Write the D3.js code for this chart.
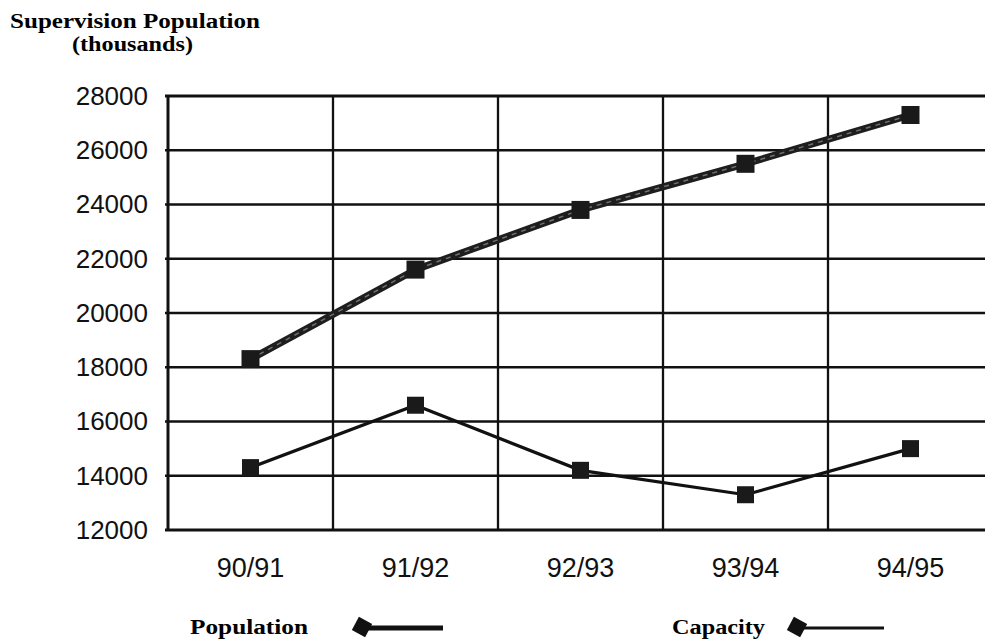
<!DOCTYPE html>
<meta charset="utf-8">
<script src="https://d3js.org/d3.v7.min.js"></script>
<style>
  body { margin: 0; background: #fff; }
  svg { display: block; }
</style>
<body>
<div id="canvas"></div>
<script>
  // data
  var years = ["90/91", "91/92", "92/93", "93/94", "94/95"];
  var population = [18300, 21600, 23800, 25500, 27300];
  var capacity = [14300, 16600, 14200, 13300, 15000];
  var yTicks = [12000, 14000, 16000, 18000, 20000, 22000, 24000, 26000, 28000];

  var width = 985;
  var height = 640;

  var svg = d3.select('#canvas')
    .append("svg")
    .attr("width", width)
    .attr("height", height);

  // plot area (the right border runs past the window edge, as in the scan)
  var plotL = 168, plotR = 993, plotT = 96, plotB = 530;

  var x = d3.scaleBand()
    .domain(years)
    .range([plotL, plotR]);

  var y = d3.scaleLinear()
    .domain([12000, 28000])
    .range([plotB, plotT]);

  var serif = "'Liberation Serif', 'DejaVu Serif', serif";

  // title ---------------------------------------------------------
  svg.append("text")
    .attr("x", 10).attr("y", 28)
    .attr("font-family", serif)
    .attr("font-weight", "bold")
    .attr("font-size", "20px")
    .attr("textLength", 250)
    .attr("lengthAdjust", "spacingAndGlyphs")
    .text("Supervision Population");

  svg.append("text")
    .attr("x", 72).attr("y", 51)
    .attr("font-family", serif)
    .attr("font-weight", "bold")
    .attr("font-size", "20px")
    .attr("textLength", 121)
    .attr("lengthAdjust", "spacingAndGlyphs")
    .text("(thousands)");

  // grid ----------------------------------------------------------
  var grid = svg.append("g");

  grid.selectAll(".hline")
    .data(yTicks)
    .enter()
    .append("line")
    .attr("x1", plotL - 3)
    .attr("x2", plotR)
    .attr("y1", function(d) { return y(d); })
    .attr("y2", function(d) { return y(d); })
    .attr("stroke", "#111")
    .attr("stroke-width", function(d) { return (d == 12000 || d == 28000) ? 2.8 : 2.3; });

  grid.selectAll(".vline")
    .data(years.slice(1))
    .enter()
    .append("line")
    .attr("x1", function(d) { return x(d); })
    .attr("x2", function(d) { return x(d); })
    .attr("y1", plotT)
    .attr("y2", plotB)
    .attr("stroke", "#111")
    .attr("stroke-width", 2.3);

  grid.append("line")
    .attr("x1", plotL).attr("x2", plotL)
    .attr("y1", plotT - 1).attr("y2", plotB + 1)
    .attr("stroke", "#111")
    .attr("stroke-width", 3);

  // y axis labels
  var yAxis = d3.axisLeft(y)
    .tickValues(yTicks)
    .tickFormat(d3.format("d"))
    .tickSize(0)
    .tickPadding(20);

  var ya = svg.append("g")
    .attr("transform", "translate(" + plotL + ",0)")
    .call(yAxis);
  ya.select(".domain").remove();
  ya.selectAll("text")
    .attr("font-family", "'Liberation Sans', Arial, sans-serif")
    .attr("font-size", "26px")
    .attr("fill", "#111");

  // x axis labels
  var xAxis = d3.axisBottom(x)
    .tickSize(0)
    .tickPadding(28);

  var xa = svg.append("g")
    .attr("transform", "translate(0," + plotB + ")")
    .call(xAxis);
  xa.select(".domain").remove();
  xa.selectAll("text")
    .attr("font-family", "'Liberation Sans', Arial, sans-serif")
    .attr("font-size", "27px")
    .attr("fill", "#111");

  // lines ---------------------------------------------------------
  var cx = function(i) { return x(years[i]) + x.bandwidth() / 2; };

  var line = d3.line()
    .x(function(d, i) { return cx(i); })
    .y(function(d) { return y(d); });

  // population: thick line with a grey sheen
  svg.append("path")
    .attr("d", line(population))
    .attr("fill", "none")
    .attr("stroke", "#1e1e1e")
    .attr("stroke-width", 7);
  svg.append("path")
    .attr("d", line(population))
    .attr("fill", "none")
    .attr("stroke", "#707070")
    .attr("stroke-width", 1.5)
    .attr("stroke-dasharray", "5,5");

  // capacity: thinner line
  svg.append("path")
    .attr("d", line(capacity))
    .attr("fill", "none")
    .attr("stroke", "#111")
    .attr("stroke-width", 3.2);

  svg.selectAll(".popdot")
    .data(population)
    .enter()
    .append("rect")
    .attr("x", function(d, i) { return cx(i) - 9; })
    .attr("y", function(d) { return y(d) - 9; })
    .attr("width", 18).attr("height", 18)
    .attr("fill", "#1a1a1a");

  svg.selectAll(".capdot")
    .data(capacity)
    .enter()
    .append("rect")
    .attr("x", function(d, i) { return cx(i) - 8.5; })
    .attr("y", function(d) { return y(d) - 8.5; })
    .attr("width", 17).attr("height", 17)
    .attr("fill", "#1a1a1a");

  // legend --------------------------------------------------------
  var legend = [
    { name: "Population", tx: 190, mx: 362, lx2: 443, w: 5, tl: 118 },
    { name: "Capacity", tx: 672, mx: 797, lx2: 884, w: 3, tl: 93 }
  ];
  var ly = 628;

  var lg = svg.selectAll(".legend")
    .data(legend)
    .enter()
    .append("g");

  lg.append("text")
    .attr("x", function(d) { return d.tx; })
    .attr("y", ly + 6)
    .attr("font-family", serif)
    .attr("font-weight", "bold")
    .attr("font-size", "20px")
    .attr("textLength", function(d) { return d.tl; })
    .attr("lengthAdjust", "spacingAndGlyphs")
    .text(function(d) { return d.name; });

  lg.append("line")
    .attr("x1", function(d) { return d.mx; })
    .attr("x2", function(d) { return d.lx2; })
    .attr("y1", ly).attr("y2", ly)
    .attr("stroke", "#111")
    .attr("stroke-width", function(d) { return d.w; });

  lg.append("rect")
    .attr("x", -7.5).attr("y", -7.5)
    .attr("width", 15).attr("height", 15)
    .attr("fill", "#111")
    .attr("transform", function(d) { return "translate(" + d.mx + "," + (ly - 1) + ") rotate(28)"; });
</script>
</body>
